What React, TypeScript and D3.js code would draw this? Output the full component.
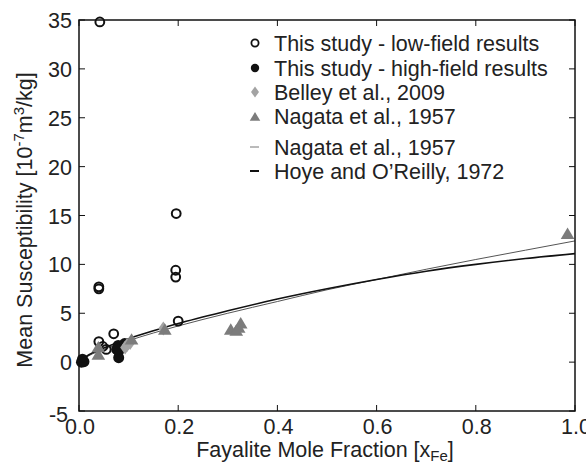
import React from "react";
import * as d3 from "d3";

const W = 586, H = 464;
const M = { left: 79, right: 575, top: 20, bottom: 411 };

const xTicks = [0, 0.2, 0.4, 0.6, 0.8, 1.0];
const xTickLabels = ["0.0", "0.2", "0.4", "0.6", "0.8", "1.0"];
const yTicks = [-5, 0, 5, 10, 15, 20, 25, 30, 35];

const lowFieldX = [0.042, 0.196, 0.195, 0.195, 0.04, 0.04, 0.2, 0.07, 0.04, 0.048, 0.055];
const lowFieldY = [34.8, 15.2, 9.4, 8.7, 7.7, 7.5, 4.2, 2.9, 2.1, 1.6, 1.3];

const highFieldX = [0.007, 0.01, 0.005, 0.079, 0.084, 0.08, 0.08, 0.092, 0.076];
const highFieldY = [0.3, 0.05, 0.0, 1.7, 1.5, 1.1, 0.45, 1.9, 1.3];

const belleyX = [0.093, 0.097, 0.103, 0.17];
const belleyY = [1.5, 1.75, 1.95, 3.45];

const nagataPtsX = [0.039, 0.039, 0.106, 0.173, 0.306, 0.317, 0.322, 0.326, 0.985];
const nagataPtsY = [1.5, 0.75, 2.3, 3.3, 3.3, 3.2, 3.5, 3.95, 13.1];

const curveX = [0, 0.02, 0.05, 0.1, 0.15, 0.2, 0.3, 0.4, 0.5, 0.6, 0.7, 0.8, 0.9, 1.0];
const nagataCurveY = [0, 0.66, 1.3, 2.2, 2.98, 3.7, 5.0, 6.2, 7.4, 8.45, 9.5, 10.5, 11.45, 12.4];
const hoyeCurveY = [0, 0.75, 1.45, 2.4, 3.2, 3.95, 5.25, 6.45, 7.5, 8.45, 9.3, 10.0, 10.6, 11.1];

const legendLabels = [
  "This study - low-field results",
  "This study - high-field results",
  "Belley et al., 2009",
  "Nagata et al., 1957",
  "Nagata et al., 1957",
  "Hoye and O\u2019Reilly, 1972",
];

const FONT = "'Liberation Sans', Arial, Helvetica, sans-serif";
const FS = 21.5;
const SUB = 15;
const LIGHT = "#a3a3a3";
const MID = "#7c7c7c";

export default function App() {
  const x = d3.scaleLinear().domain([0, 1]).range([M.left, M.right]);
  const y = d3.scaleLinear().domain([-5, 35]).range([M.bottom, M.top]);
  const line = d3
    .line<number>()
    .x((_, i) => x(curveX[i]))
    .y((d) => y(d))
    .curve(d3.curveMonotoneX);

  const tri = (cx: number, cy: number, s: number) =>
    `M${cx},${cy - s}L${cx + s * 1.05},${cy + s * 0.75}L${cx - s * 1.05},${cy + s * 0.75}Z`;
  const dia = (cx: number, cy: number, w: number, h: number) =>
    `M${cx},${cy - h}L${cx + w},${cy}L${cx},${cy + h}L${cx - w},${cy}Z`;

  const legX = 255;
  const legTextX = 274;
  const legRows = [43, 68, 92, 116, 147, 171];

  return (
    <svg
      width={W}
      height={H}
      style={{ position: "absolute", left: 0, top: 0, background: "#fff" }}
      fontFamily={FONT}
    >
      <rect x={0} y={0} width={W} height={H} fill="#fff" />
      {/* curves */}
      <path d={line(nagataCurveY) || ""} fill="none" stroke="#555" strokeWidth={1} />
      <path d={line(hoyeCurveY) || ""} fill="none" stroke="#111" strokeWidth={1.6} />

      {/* low-field open circles */}
      {lowFieldX.map((v, i) => (
        <circle key={"lo" + i} cx={x(v)} cy={y(lowFieldY[i])} r={4.4} fill="none" stroke="#111" strokeWidth={2} />
      ))}
      {/* high-field filled circles */}
      {highFieldX.map((v, i) => (
        <circle key={"hi" + i} cx={x(v)} cy={y(highFieldY[i])} r={5.5} fill="#111" />
      ))}
      {/* Belley diamonds */}
      {belleyX.map((v, i) => (
        <path key={"be" + i} d={dia(x(v), y(belleyY[i]), 5, 7)} fill={LIGHT} />
      ))}
      {/* Nagata triangles */}
      {nagataPtsX.map((v, i) => (
        <path key={"na" + i} d={tri(x(v), y(nagataPtsY[i]), 6.5)} fill={MID} />
      ))}

      {/* axes box */}
      <rect x={M.left} y={M.top} width={M.right - M.left} height={M.bottom - M.top} fill="none" stroke="#111" strokeWidth={1.5} />
      {xTicks.map((t, i) => (
        <g key={"xt" + i}>
          <line x1={x(t)} x2={x(t)} y1={M.bottom} y2={M.bottom - 6} stroke="#111" strokeWidth={1} />
          <line x1={x(t)} x2={x(t)} y1={M.top} y2={M.top + 6} stroke="#111" strokeWidth={1} />
          <text x={x(t) + 1} y={434} textAnchor="middle" fontSize={FS} fill="#222">
            {xTickLabels[i]}
          </text>
        </g>
      ))}
      {yTicks.map((t, i) => (
        <g key={"yt" + i}>
          <line x1={M.left} x2={M.left + 6} y1={y(t)} y2={y(t)} stroke="#111" strokeWidth={1} />
          <line x1={M.right} x2={M.right - 6} y1={y(t)} y2={y(t)} stroke="#111" strokeWidth={1} />
          <text x={t === -5 ? 68 : 72} y={y(t) + (t === -5 ? 11 : 8)} textAnchor="end" fontSize={FS} fill="#222">
            {t}
          </text>
        </g>
      ))}

      {/* axis labels */}
      <text x={325} y={457} textAnchor="middle" fontSize={FS} fill="#222">
        Fayalite Mole Fraction [x
        <tspan fontSize={SUB} dy={4}>Fe</tspan>
        <tspan dy={-4}>]</tspan>
      </text>
      <text transform={`translate(32,220) rotate(-90)`} textAnchor="middle" fontSize={FS} fill="#222">
        Mean Susceptibility [10
        <tspan fontSize={SUB} dy={-8}>-7</tspan>
        <tspan dy={8}>m</tspan>
        <tspan fontSize={SUB} dy={-8}>3</tspan>
        <tspan dy={8}>/kg]</tspan>
      </text>

      {/* legend */}
      <circle cx={legX} cy={legRows[0]} r={3.6} fill="none" stroke="#111" strokeWidth={1.8} />
      <circle cx={legX} cy={legRows[1]} r={4.2} fill="#111" />
      <path d={dia(legX, legRows[2], 4, 5.5)} fill={LIGHT} />
      <path d={tri(legX, legRows[3] + 1, 5)} fill={MID} />
      <line x1={250} x2={259} y1={legRows[4]} y2={legRows[4]} stroke="#777" strokeWidth={1} />
      <line x1={250} x2={259} y1={legRows[5]} y2={legRows[5]} stroke="#111" strokeWidth={2} />
      {legendLabels.map((l, i) => (
        <text key={"lg" + i} x={legTextX} y={legRows[i] + 7.5} fontSize={FS} fill="#222">
          {l}
        </text>
      ))}
    </svg>
  );
}
